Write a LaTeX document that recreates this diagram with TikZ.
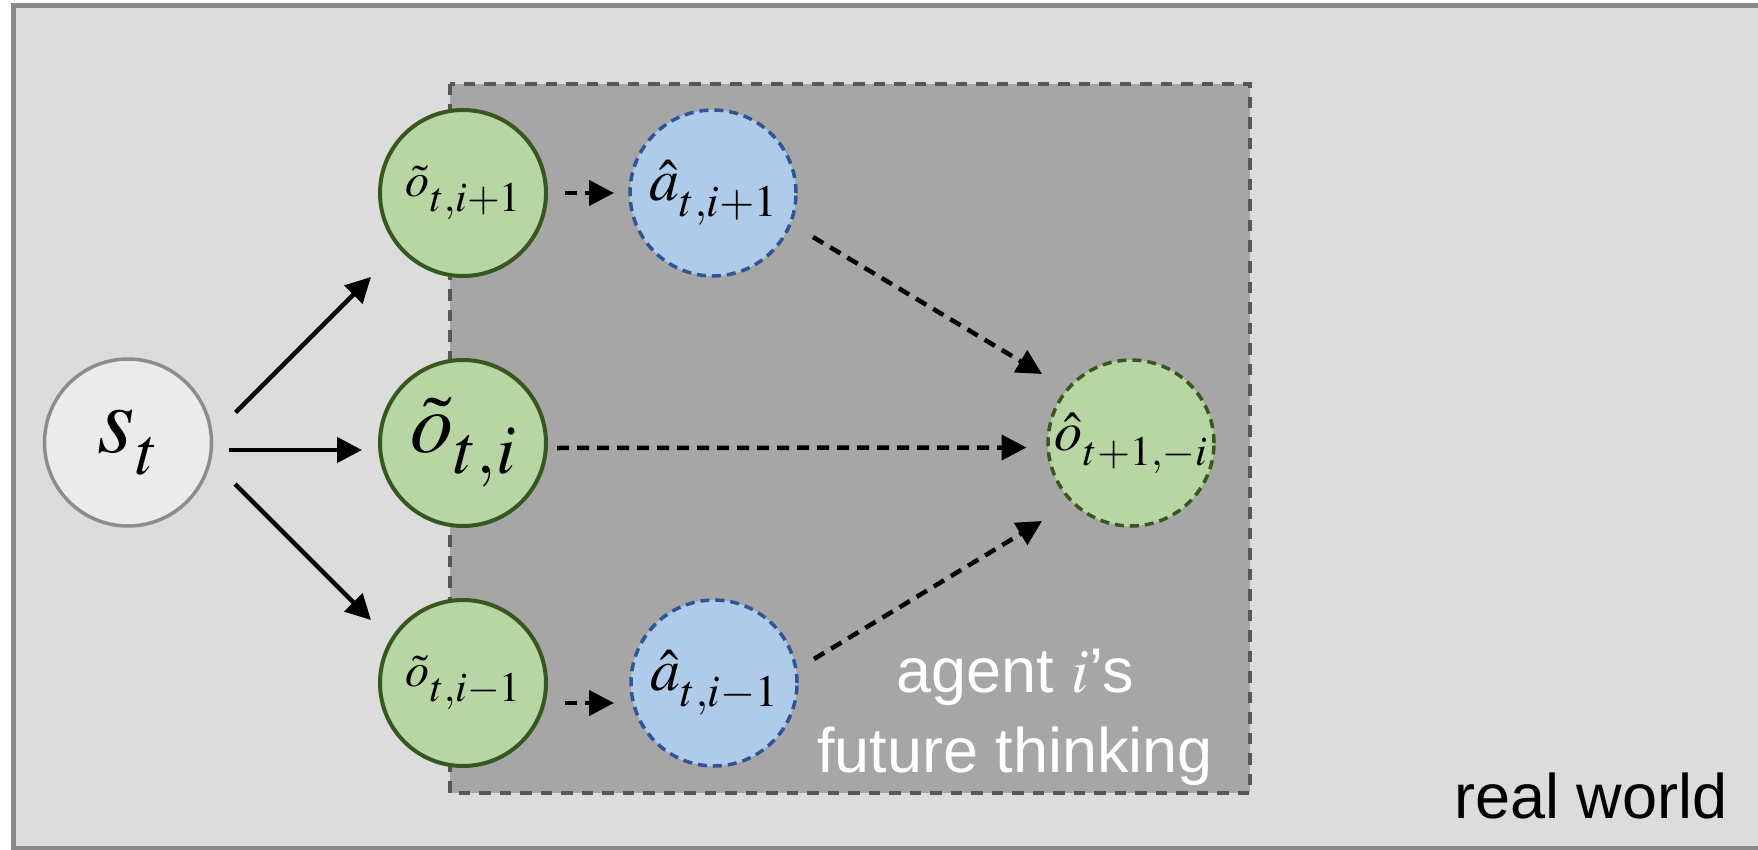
\documentclass[tikz,border=0pt]{standalone}
\usepackage{mathptmx}
\usepackage[no-math]{fontspec}
\setsansfont{Liberation Sans}
\usetikzlibrary{arrows.meta}

\definecolor{worldfill}{HTML}{DCDCDC}
\definecolor{worldline}{HTML}{898989}
\definecolor{thinkfill}{HTML}{A6A6A6}
\definecolor{thinkline}{HTML}{575757}
\definecolor{gfill}{HTML}{B8D6A4}
\definecolor{gline}{HTML}{38571F}
\definecolor{bfill}{HTML}{AECBEA}
\definecolor{bline}{HTML}{2F5597}
\definecolor{sfill}{HTML}{EBEBEB}
\definecolor{sline}{HTML}{8C8C8C}

% symbol with a subscript: {main size}{sub size}{drop}{symbol}{subscript}
\newcommand\varlabel[5]{%
  \fontsize{#1}{#1}\selectfont$#4$\kern1pt%
  \raisebox{-#3}{\fontsize{#2}{#2}\selectfont$#5$}}

\tikzset{
  obsnode/.style={circle, draw=gline, fill=gfill, line width=4pt,
    minimum size=166pt, inner sep=0pt},
  predobs/.style={obsnode, line width=3.5pt, dash pattern=on 9pt off 6pt},
  actnode/.style={circle, draw=bline, fill=bfill, line width=3.5pt,
    dash pattern=on 9pt off 6pt, minimum size=166pt, inner sep=0pt},
  statenode/.style={circle, draw=sline, fill=sfill, line width=3.5pt,
    minimum size=167pt, inner sep=0pt},
  flow/.style={line width=4.5pt, -{Triangle[length=25pt,width=25pt]}},
  dflow/.style={flow, dash pattern=on 12pt off 8pt},
  caption/.style={font=\sffamily\fontsize{63}{76}\selectfont, inner sep=0pt, anchor=base},
}

\begin{document}
\begin{tikzpicture}[x=1pt, y=-1pt]
  \useasboundingbox (0,0) rectangle (1758,850);
  \clip (0,0) rectangle (1758,850);

  % real world frame
  \draw[worldline, fill=worldfill, line width=4.5pt] (13.5,5.5) rectangle (1780,848.5);

  % agent's imagination region
  \draw[thinkline, fill=thinkfill, line width=4pt, dash pattern=on 11.5pt off 9pt]
    (450,84) rectangle (1250,793);

  % nodes
  \node[statenode] (st) at (128,442.5) {\varlabel{96}{68}{22pt}{s}{t}};
  \node[obsnode] (o1) at (463,193) {\varlabel{48}{42}{15pt}{\tilde{o}}{t{,}i{+}1}};
  \node[obsnode] (o0) at (463,443) {\varlabel{86}{70}{21pt}{\tilde{o}}{t{,}i}};
  \node[obsnode] (o2) at (463,683) {\varlabel{48}{42}{15pt}{\tilde{o}}{t{,}i{-}1}};
  \node[actnode] (a1) at (713,193) {\varlabel{60}{45}{16pt}{\hat{a}}{t{,}i{+}1}};
  \node[actnode] (a2) at (714,683) {\varlabel{60}{45}{16pt}{\hat{a}}{t{,}i{-}1}};
  \node[predobs] (oh) at (1131,443) {\varlabel{56}{42}{15pt}{\hat{o}}{t{+}1{,}{-}i}};

  % state to observations
  \draw[flow] ([shift={(107.5,-30)}]st.center) -- ([shift={(-92,84)}]o1.center);
  \draw[flow] ([shift={(100.5,7.5)}]st.center) -- ([shift={(-101,7)}]o0.center);
  \draw[flow] ([shift={(107,41.5)}]st.center) -- ([shift={(-92,-63)}]o2.center);

  % imagined rollouts
  \draw[dflow] ([shift={(102,0)}]o1.center) -- ([shift={(-99,0)}]a1.center);
  \draw[dflow] ([shift={(102,20)}]o2.center) -- ([shift={(-100,20)}]a2.center);
  \draw[dflow] ([shift={(94,5)}]o0.center) -- ([shift={(-104.5,4.5)}]oh.center);
  \draw[dflow] ([shift={(100,44)}]a1.center) -- ([shift={(-89,-69)}]oh.center);
  \draw[dflow] ([shift={(100,-24)}]a2.center) -- ([shift={(-89,78)}]oh.center);

  % captions
  \node[caption, text=white] (cap1) at (1015,692) {agent $i$’s};
  \node[caption, text=white] (cap2) at (1015,772) {future thinking};
  \node[caption, anchor=base west] (world) at (1454,818) {real world};
\end{tikzpicture}
\end{document}
